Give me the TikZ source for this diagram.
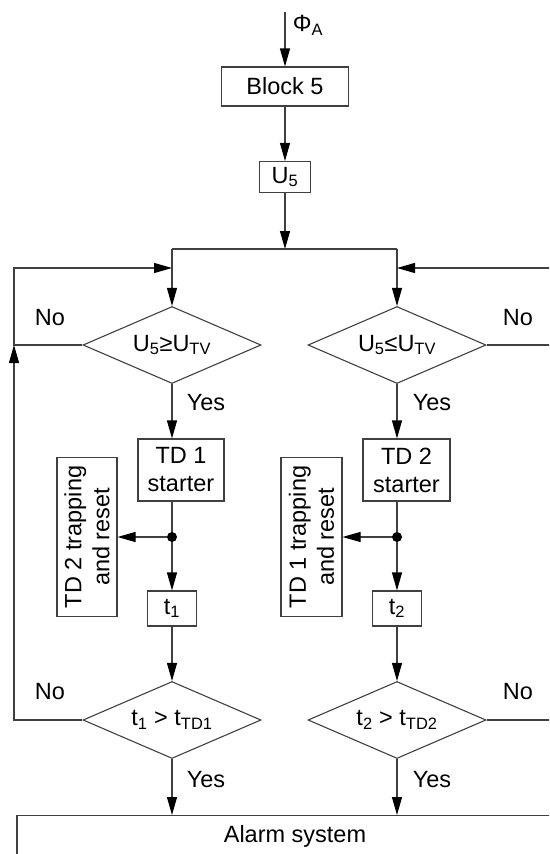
\documentclass[tikz,border=0pt]{standalone}
\usepackage{fontspec}
\setmainfont{Liberation Sans}
\usetikzlibrary{shapes.geometric,arrows.meta}
\begin{document}
\begin{tikzpicture}[x=1pt,y=-1pt,
  every node/.style={font=\fontsize{23.5}{28}\selectfont},
  line/.style={draw=black!75, line width=1.1pt},
  arr/.style={line, -{Triangle[length=18pt,width=10pt,color=black]}},
  box/.style={draw=black!75, line width=1.1pt, rectangle, inner sep=0pt, align=center},
  abox/.style={draw=black!75, line width=1.1pt, rectangle, inner sep=0pt},
  dia/.style={draw=black!75, line width=1.1pt, diamond, aspect=2.31, minimum width=178pt, minimum height=77pt, inner sep=0pt}
]
\path[use as bounding box, clip] (0,0) rectangle (549,854);

% nodes
\node (phi) at (308,25) {Φ\textsubscript{A}};
\node[box, minimum width=127pt, minimum height=39pt] (b5) at (285,86.5) {Block 5};
\node[box, minimum width=51pt, minimum height=31pt] (u5) at (285,177) {U\textsubscript{5}};
\node[dia] (d1) at (172,345) {U\textsubscript{5}≥U\textsubscript{TV}};
\node[dia] (d2) at (397,345) {U\textsubscript{5}≤U\textsubscript{TV}};
\node[box, minimum width=86pt, minimum height=62pt] (td1) at (181,470) {TD 1\\starter};
\node[box, minimum width=87pt, minimum height=62pt] (td2) at (406.5,470) {TD 2\\starter};
\node[box, rotate=90, minimum width=159pt, minimum height=60pt] (r1) at (87,537) {TD 2 trapping\\and reset};
\node[box, rotate=90, minimum width=159pt, minimum height=61pt] (r2) at (311.5,537) {TD 1 trapping\\and reset};
\node[box, minimum width=49pt, minimum height=35pt] (t1) at (172,608.5) {t\textsubscript{1}};
\node[box, minimum width=49pt, minimum height=35pt] (t2) at (397,608.5) {t\textsubscript{2}};
\node[dia] (d3) at (172,720) {t\textsubscript{1} > t\textsubscript{TD1}};
\node[dia] (d4) at (397,720) {t\textsubscript{2} > t\textsubscript{TD2}};
\node[abox, anchor=north, minimum width=556pt, text height=26.5pt, text depth=40pt] (al) at (295,815) {Alarm system};

% labels
\node (no1) at (50,318) {No};
\node (no2) at (518,318) {No};
\node (no3) at (50,692) {No};
\node (no4) at (518,692) {No};
\node (y1) at (206,403) {Yes};
\node (y2) at (432,403) {Yes};
\node (y3) at (206,780) {Yes};
\node (y4) at (432,780) {Yes};

% coordinates
\coordinate (top) at (285,12);
\coordinate (sp) at (285,249);
\coordinate (jl) at (172,249);
\coordinate (jr) at (397,249);
\coordinate (fl1) at (14,345);
\coordinate (fl2) at (14,268);
\coordinate (fl3) at (14,720);
\coordinate (ml) at (172,268);
\coordinate (fr1) at (575,345);
\coordinate (fr2) at (575,268);
\coordinate (fr3) at (575,720);
\coordinate (mr) at (397,268);
\coordinate (dot1) at (172,537);
\coordinate (dot2) at (397,537);

% connectors
\draw[arr] (top) -- (b5);
\draw[arr] (b5) -- (u5);
\draw[arr] (u5) -- (sp);
\draw[line] (jl) -- (jr);
\draw[arr] (jl) -- (d1);
\draw[arr] (jr) -- (d2);
\draw[arr] (d1.west) -- (fl1) -- (fl2) -- (ml);
\draw[arr] (d3.west) -- (fl3) -- (fl1);
\draw[arr] (d2.east) -- (fr1) -- (fr2) -- (mr);
\draw[line] (d4.east) -- (fr3) -- (fr1);

\draw[arr] (d1.south) -- (d1.south |- td1.north);
\draw[line] (d1.south |- td1.south) -- (dot1);
\draw[arr] (dot1) -- (dot1 |- t1.north);
\draw[arr] (dot1) -- (dot1 -| r1.south);
\fill[black] (dot1) circle (5pt);
\draw[arr] (t1) -- (d3);
\draw[arr] (d3.south) -- (d3.south |- al.north);

\draw[arr] (d2.south) -- (d2.south |- td2.north);
\draw[line] (d2.south |- td2.south) -- (dot2);
\draw[arr] (dot2) -- (dot2 |- t2.north);
\draw[arr] (dot2) -- (dot2 -| r2.south);
\fill[black] (dot2) circle (5pt);
\draw[arr] (t2) -- (d4);
\draw[arr] (d4.south) -- (d4.south |- al.north);
\end{tikzpicture}
\end{document}
